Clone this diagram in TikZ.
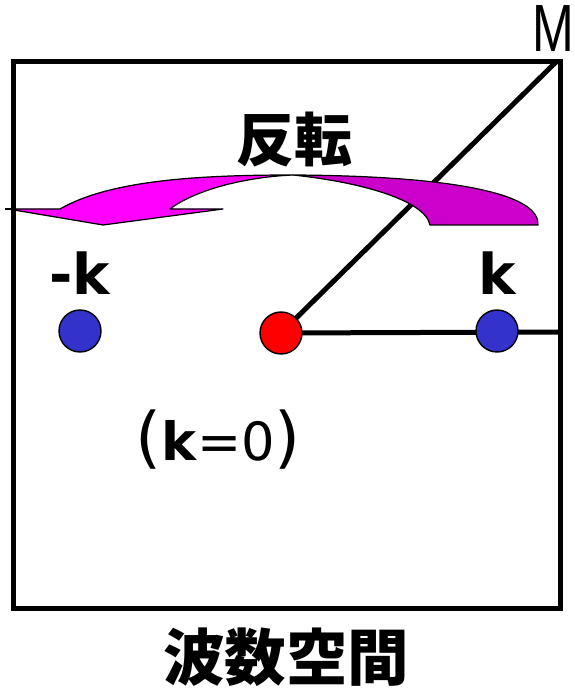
\documentclass[tikz,border=0pt]{standalone}
\usepackage{fontspec}
\setmainfont{Liberation Sans}
\newfontfamily\kfont{DejaVu Sans}
\newfontfamily\jpfont{Noto Sans CJK JP}
\usepackage{xcolor}
\usepackage{tikz}
\usetikzlibrary{positioning}
\definecolor{kblue}{RGB}{51,51,204}
\definecolor{flipmag}{RGB}{255,0,255}
\definecolor{tailmag}{RGB}{204,0,204}
\tikzset{
  frame/.style  = {draw, line width=0.1cm},
  wire/.style   = {line width=0.1cm},
  kdot/.style   = {circle, draw, line width=0.8pt, minimum size=0.84cm,
                   inner sep=0pt, fill=kblue},
  gdot/.style   = {kdot, fill=red},
  band/.style   = {draw, line width=0.7pt, line join=round},
  klabel/.style = {inner sep=0pt, font=\kfont\bfseries\fontsize{32}{32}\selectfont},
  jlabel/.style = {inner sep=0pt, font=\jpfont\bfseries\fontsize{33}{33}\selectfont},
}

\begin{document}
\begin{tikzpicture}[x=0.02cm, y=-0.02cm]
  \useasboundingbox (0,0) rectangle (574,688);

  % box of k space
  \draw[frame] (13,62) rectangle (560,608);

  \coordinate (gamma) at (281,333);
  \coordinate (mpt) at (556,62);
  \coordinate (xpt) at (560,332);

  \draw[wire] (gamma) -- (mpt);
  \draw[wire] (gamma) -- (xpt);

  % curved arrow
  \filldraw[band, fill=tailmag] (538,225) .. controls (540,195) and (460,176) .. (293,175)
     .. controls (360,182) and (425,200) .. (430,225) -- cycle;
  \filldraw[band, fill=flipmag] (8,209) -- (60,209) .. controls (110,180) and (200,175) .. (293,175)
     .. controls (245,177) and (195,190) .. (170,209) -- (223,209) -- (103,225) -- cycle;
  \draw[band] (5,209) -- (12,209);

  \node[kdot] (kneg) at (80,331) {};
  \node[kdot] (kpos) at (497,331) {};
  \node[gdot] (gdot) at (gamma) {};

  \node[klabel, above=0.28cm of kneg] (kneglab) {-k};
  \node[klabel, above=0.28cm of kpos] (kposlab) {k};
  \node[inner sep=0pt, anchor=base, font=\kfont] (kzero) at (218,460)
    {\fontsize{38}{38}\selectfont(\fontsize{30}{30}\selectfont\textbf{k}=0\fontsize{38}{38}\selectfont)};

  \node[inner sep=0pt, font=\fontsize{38}{38}\selectfont] (mlab) at (553,29) {\scalebox{0.75}[1]{M}};
  \node[jlabel] (flip) at (294,140) {反転};
  \node[jlabel, font=\jpfont\bfseries\fontsize{35}{35}\selectfont] (kspace) at (286,657) {波数空間};
\end{tikzpicture}
\end{document}
